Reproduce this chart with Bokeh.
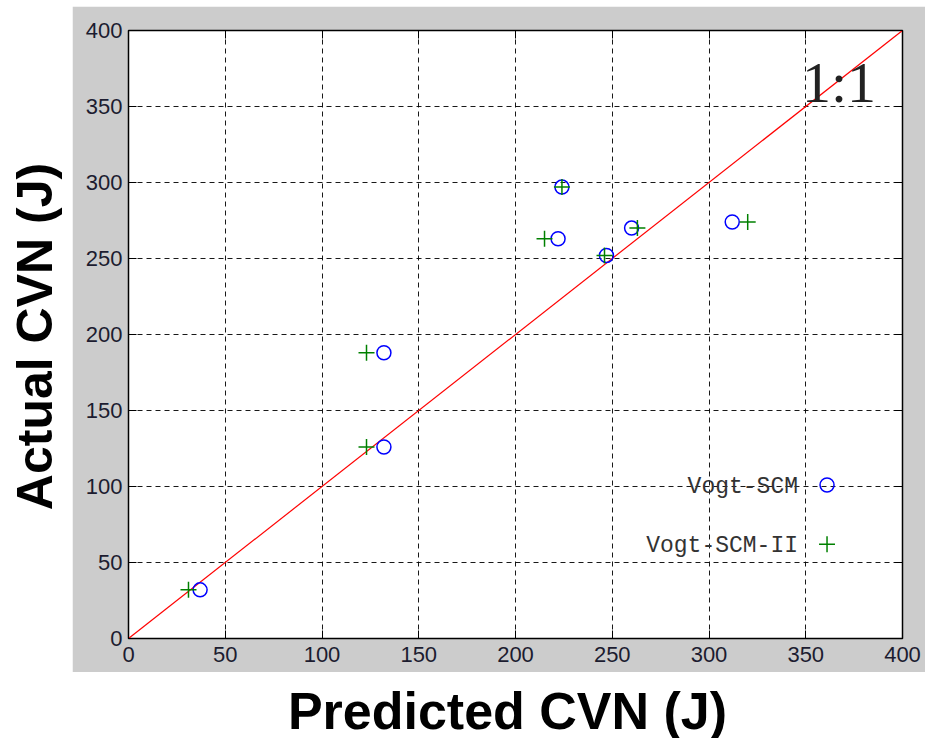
import math
from bokeh.plotting import figure
from bokeh.models import Range1d, LinearAxis, FixedTicker, Label, Spacer
from bokeh.layouts import row, column
from bokeh.embed import file_html
from bokeh.resources import INLINE

# ---- data ----
pred_scm = [37, 132, 132, 222, 224, 247, 260, 312]
act_scm = [32, 126, 188, 263, 297, 252, 270, 274]
pred_scm2 = [31, 123, 123, 215, 224, 246, 263, 320]
act_scm2 = [32, 126, 188, 263, 297, 252, 270, 274]
ref_line = [0, 400]
ticks = [0, 50, 100, 150, 200, 250, 300, 350, 400]
series_names = ["Vogt-SCM", "Vogt-SCM-II"]

GRAY = "#cccccc"
TICK_FONT = "Liberation Sans"
BLUE = "#0000ff"
GREEN = "#008000"

p = figure(width=853, height=666, output_backend="svg", toolbar_location=None,
           x_range=Range1d(0, 400), y_range=Range1d(0, 400),
           min_border_left=56, min_border_right=23, min_border_top=24, min_border_bottom=34)
p.border_fill_color = GRAY
p.background_fill_color = "white"
p.outline_line_color = "black"
p.outline_line_width = 1.5

for ax in (p.xaxis[0], p.yaxis[0]):
    ax.ticker = FixedTicker(ticks=ticks)
    ax.minor_tick_line_color = None
    ax.major_tick_in = 8
    ax.major_tick_out = 0
    ax.major_tick_line_color = "black"
    ax.axis_line_color = "black"
    ax.major_label_text_font = TICK_FONT
    ax.major_label_text_font_size = "22px"
    ax.major_label_text_color = "#1c1c30"
p.xaxis.major_label_standoff = 8
p.yaxis.major_label_standoff = 6

for side in ("above", "right"):
    ax = LinearAxis(ticker=FixedTicker(ticks=ticks), major_tick_in=8, major_tick_out=0,
                    minor_tick_line_color=None, major_label_text_font_size="1px",
                    major_label_text_color=None, major_label_standoff=0,
                    axis_line_color="black")
    p.add_layout(ax, side)

p.grid.ticker = FixedTicker(ticks=ticks)
p.grid.grid_line_color = "black"
p.grid.grid_line_dash = "5 4"
p.grid.grid_line_alpha = 0.9

p.line(ref_line, ref_line, line_color="red", line_width=1.2)

p.scatter(pred_scm, act_scm, marker="circle", size=14, fill_color=None,
          line_color=BLUE, line_width=1.5)
p.scatter(pred_scm2, act_scm2, marker="cross", size=16,
          line_color=GREEN, line_width=1.5)

# legend (text to the left of its marker, as in the reference)
p.scatter([361], [101], marker="circle", size=14, fill_color=None, line_color=BLUE, line_width=1.5)
p.scatter([361], [62], marker="cross", size=16, line_color=GREEN, line_width=1.5)
for name, ly in zip(series_names, [100, 61]):
    p.add_layout(Label(x=346, y=ly, text=name, text_align="right", text_baseline="middle",
                       text_font="Liberation Mono", text_font_size="23px",
                       text_color="#333333"))

p.add_layout(Label(x=348, y=366, text="1:1", text_font="Liberation Serif",
                   text_font_size="58px", text_color="#222222", text_baseline="middle"))

# y axis title panel
left = figure(width=72, height=738, output_backend="svg", toolbar_location=None,
              x_range=Range1d(0, 1), y_range=Range1d(0, 1), x_axis_type=None, y_axis_type=None,
              min_border=0, outline_line_color=None)
left.border_fill_color = "white"
left.add_layout(Label(x=34, y=402, x_units="screen", y_units="screen", text="Actual CVN (J)",
                      angle=math.pi / 2, text_align="center", text_baseline="middle",
                      text_font="Liberation Sans", text_font_style="bold",
                      text_font_size="50px", text_color="black"))

# x axis title panel (its frame is aligned with the main frame)
bottom = figure(width=853, height=66, output_backend="svg", toolbar_location=None,
                x_range=Range1d(0, 1), y_range=Range1d(0, 1), x_axis_type=None, y_axis_type=None,
                min_border=0, outline_line_color=None)
bottom.border_fill_color = "white"
bottom.add_layout(Label(x=379, y=28, x_units="screen", y_units="screen", text="Predicted CVN (J)",
                        text_align="center", text_baseline="middle",
                        text_font="Liberation Sans", text_font_style="bold",
                        text_font_size="52px", text_color="black"))

layout = row(left, column(Spacer(width=853, height=6), p, bottom))

open("out.html", "w").write(file_html(layout, INLINE))
